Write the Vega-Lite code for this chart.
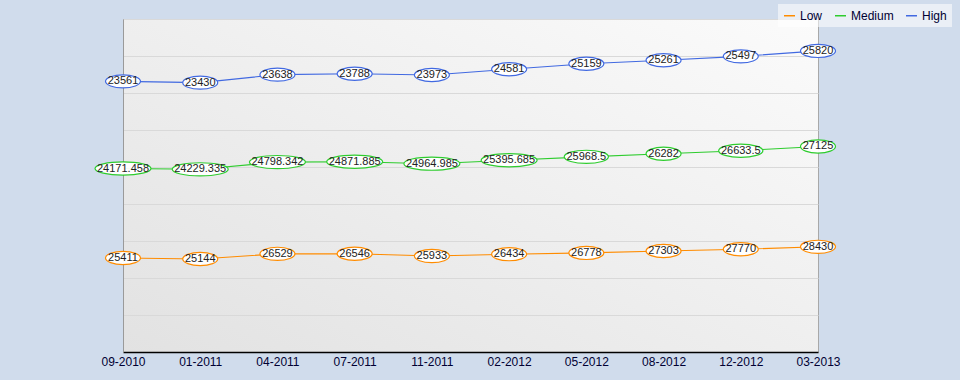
{
  "$schema": "https://vega.github.io/schema/vega-lite/v6.json",
  "width": 695,
  "height": 333,
  "autosize": {"type": "none"},
  "padding": {"left": 123, "top": 19, "right": 142, "bottom": 28},
  "background": "#d0dcec",
  "data": {
    "values": [
      {"date": "09-2010", "series": "Low", "value": 25411},
      {"date": "01-2011", "series": "Low", "value": 25144},
      {"date": "04-2011", "series": "Low", "value": 26529},
      {"date": "07-2011", "series": "Low", "value": 26546},
      {"date": "11-2011", "series": "Low", "value": 25933},
      {"date": "02-2012", "series": "Low", "value": 26434},
      {"date": "05-2012", "series": "Low", "value": 26778},
      {"date": "08-2012", "series": "Low", "value": 27303},
      {"date": "12-2012", "series": "Low", "value": 27770},
      {"date": "03-2013", "series": "Low", "value": 28430},
      {"date": "09-2010", "series": "Medium", "value": 24171.458},
      {"date": "01-2011", "series": "Medium", "value": 24229.335},
      {"date": "04-2011", "series": "Medium", "value": 24798.342},
      {"date": "07-2011", "series": "Medium", "value": 24871.885},
      {"date": "11-2011", "series": "Medium", "value": 24964.985},
      {"date": "02-2012", "series": "Medium", "value": 25395.685},
      {"date": "05-2012", "series": "Medium", "value": 25968.5},
      {"date": "08-2012", "series": "Medium", "value": 26282},
      {"date": "12-2012", "series": "Medium", "value": 26633.5},
      {"date": "03-2013", "series": "Medium", "value": 27125},
      {"date": "09-2010", "series": "High", "value": 23561},
      {"date": "01-2011", "series": "High", "value": 23430},
      {"date": "04-2011", "series": "High", "value": 23638},
      {"date": "07-2011", "series": "High", "value": 23788},
      {"date": "11-2011", "series": "High", "value": 23973},
      {"date": "02-2012", "series": "High", "value": 24581},
      {"date": "05-2012", "series": "High", "value": 25159},
      {"date": "08-2012", "series": "High", "value": 25261},
      {"date": "12-2012", "series": "High", "value": 25497},
      {"date": "03-2013", "series": "High", "value": 25820}
    ]
  },
  "transform": [
    {"calculate": "indexof(['Low','Medium','High'], datum.series)", "as": "k"},
    {"stack": "value", "groupby": ["date"], "sort": [{"field": "k", "order": "ascending"}], "as": ["y0", "y1"]},
    {"calculate": "length(toString(datum.value))", "as": "len"}
  ],
  "encoding": {
    "x": {
      "field": "date",
      "type": "ordinal",
      "scale": {"type": "point", "padding": 0, "domain": ["09-2010", "01-2011", "04-2011", "07-2011", "11-2011", "02-2012", "05-2012", "08-2012", "12-2012", "03-2013"]},
      "axis": {"title": null, "labelAngle": 0, "ticks": false, "grid": false, "labelFont": "Liberation Sans", "labelFontSize": 12, "labelColor": "#000033", "labelPadding": 4, "domainColor": "#000000", "domainWidth": 1.5}
    },
    "y": {
      "field": "y1",
      "type": "quantitative",
      "scale": {"domain": [0, 90000], "nice": false, "zero": true},
      "axis": {"title": null, "labels": false, "ticks": false, "grid": true, "gridColor": "#d9d9d9", "values": [0, 10000, 20000, 30000, 40000, 50000, 60000, 70000, 80000, 90000], "domainColor": "#9a9a9a"}
    }
  },
  "layer": [
    {
      "mark": {"type": "line", "strokeWidth": 1.1},
      "encoding": {
        "color": {
          "field": "series",
          "type": "nominal",
          "scale": {"domain": ["Low", "Medium", "High"], "range": ["#ff8c00", "#2ecc2e", "#4169e1"]},
          "legend": {
            "title": null,
            "orient": "none",
            "legendX": 655,
            "legendY": -15,
            "direction": "horizontal",
            "symbolType": "stroke",
            "symbolSize": 121,
            "symbolStrokeWidth": 1.5,
            "labelFont": "Liberation Sans",
            "labelFontSize": 12,
            "labelColor": "#000033",
            "labelOffset": 4,
            "columnPadding": 9,
            "fillColor": "rgba(255,255,255,0.55)",
            "padding": 5
          }
        }
      }
    },
    {
      "mark": {"type": "point", "filled": false, "fill": "#ffffff", "fillOpacity": 0.95, "strokeWidth": 1.2, "size": 3136, "opacity": 1},
      "encoding": {
        "stroke": {
          "field": "series",
          "type": "nominal",
          "scale": {"domain": ["Low", "Medium", "High"], "range": ["#ff8c00", "#2ecc2e", "#4169e1"]},
          "legend": null
        },
        "shape": {
          "field": "len",
          "type": "ordinal",
          "scale": {
            "domain": [5, 7, 9],
            "range": [
              "M -0.625,0 A 0.625,0.235 0 1,0 0.625,0 A 0.625,0.235 0 1,0 -0.625,0 Z",
              "M -0.79,0 A 0.79,0.235 0 1,0 0.79,0 A 0.79,0.235 0 1,0 -0.79,0 Z",
              "M -1,0 A 1,0.235 0 1,0 1,0 A 1,0.235 0 1,0 -1,0 Z"
            ]
          },
          "legend": null
        }
      }
    },
    {
      "mark": {"type": "text", "font": "Liberation Sans", "fontSize": 11, "fill": "#222222", "align": "center", "baseline": "middle"},
      "encoding": {
        "text": {"field": "value", "type": "nominal"}
      }
    }
  ],
  "config": {
    "view": {
      "stroke": "#a8a8a8",
      "strokeWidth": 1,
      "fill": {"gradient": "linear", "x1": 1, "y1": 0, "x2": 0, "y2": 1, "stops": [{"offset": 0, "color": "#fbfbfb"}, {"offset": 1, "color": "#e2e2e2"}]}
    }
  }
}
